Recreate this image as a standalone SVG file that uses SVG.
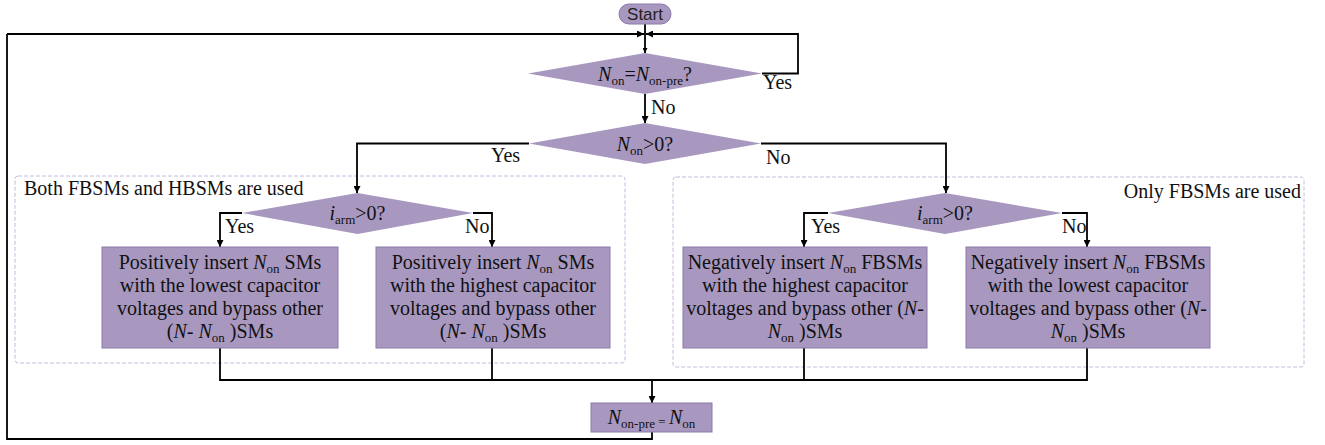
<svg xmlns="http://www.w3.org/2000/svg" width="1325" height="445" viewBox="0 0 1325 445">
  <style>
    .proc { fill: #a898c0; stroke: #8a7aa8; stroke-width: 1; }
    .dec { fill: #a898c0; stroke: none; }
    .grp { fill: none; stroke: #c4bcda; stroke-width: 1; stroke-dasharray: 4 2; }
    .wire { fill: none; stroke: #000; stroke-width: 1.8; }
    .t { font-family: "Liberation Serif", "Times New Roman", serif; font-size: 20px; fill: #111; }
    .c { text-anchor: middle; }
    .i { font-style: italic; }
    .s { font-size: 13px; }
    .start { font-family: "Liberation Sans", Arial, sans-serif; font-size: 17px; fill: #222; text-anchor: middle; }
  </style>
  <defs>
    <marker id="arr" viewBox="0 0 10 10" refX="10" refY="5" markerWidth="8" markerHeight="7" markerUnits="userSpaceOnUse" orient="auto">
      <path d="M0,0 L10,5 L0,10 z" fill="#000"/>
    </marker>
    <marker id="arrS" viewBox="0 0 10 10" refX="10" refY="5" markerWidth="6" markerHeight="5" markerUnits="userSpaceOnUse" orient="auto">
      <path d="M0,0 L10,5 L0,10 z" fill="#000"/>
    </marker>
  </defs>

  <!-- dashed group frames -->
  <g id="group-both">
    <rect class="grp" x="15" y="176" width="610" height="187" rx="3"/>
    <text class="t" x="24" y="195">Both FBSMs and HBSMs are used</text>
  </g>
  <g id="group-fb">
    <rect class="grp" x="673" y="177" width="631" height="190" rx="3"/>
    <text class="t" x="1301" y="198" text-anchor="end">Only FBSMs are used</text>
  </g>

  <!-- connectors -->
  <g id="connectors">
    <path class="wire" d="M645,24 V53" stroke-width="1" marker-end="url(#arrS)"/>
    <path class="wire" d="M7,34 H644" marker-end="url(#arr)"/>
    <path class="wire" d="M762,73.5 H798 V34 H646" marker-end="url(#arr)"/>
    <path class="wire" d="M645,94 V123" marker-end="url(#arr)"/>
    <path class="wire" d="M529,143.5 H357 V193" marker-end="url(#arr)"/>
    <path class="wire" d="M761,143.5 H946 V193" marker-end="url(#arr)"/>
    <path class="wire" d="M242,213 H220 V247" marker-end="url(#arr)"/>
    <path class="wire" d="M473,213 H492 V247" marker-end="url(#arr)"/>
    <path class="wire" d="M828,213 H804 V247" marker-end="url(#arr)"/>
    <path class="wire" d="M1062,213 H1087 V247" marker-end="url(#arr)"/>
    <path class="wire" d="M220,348 V380 H1087 V348"/>
    <path class="wire" d="M492,348 V380"/>
    <path class="wire" d="M804,348 V380"/>
    <path class="wire" d="M652,380 V403" marker-end="url(#arr)"/>
    <path class="wire" d="M652,432 V439 H7 V34"/>
    <text class="t" x="763" y="89">Yes</text>
    <text class="t" x="651" y="114">No</text>
    <text class="t" x="491" y="162">Yes</text>
    <text class="t" x="766" y="164">No</text>
    <text class="t" x="225" y="233">Yes</text>
    <text class="t" x="465" y="233">No</text>
    <text class="t" x="811" y="233">Yes</text>
    <text class="t" x="1062" y="233">No</text>
  </g>

  <g id="start">
    <rect class="proc" x="619" y="4" width="52" height="20" rx="10"/>
    <text class="start" x="645" y="20">Start</text>
  </g>

  <g id="check-change">
    <polygon class="dec" points="645,53 762,73.5 645,94 528,73.5"/>
    <text class="t c" x="645" y="81"><tspan class="i">N</tspan><tspan class="s" dy="4">on</tspan><tspan dy="-4">=</tspan><tspan class="i">N</tspan><tspan class="s" dy="4">on-pre</tspan><tspan dy="-4">?</tspan></text>
  </g>

  <g id="check-sign">
    <polygon class="dec" points="645,123 761,143.5 645,164 529,143.5"/>
    <text class="t c" x="645" y="151"><tspan class="i">N</tspan><tspan class="s" dy="4">on</tspan><tspan dy="-4">&gt;0?</tspan></text>
  </g>

  <g id="check-current-left">
    <polygon class="dec" points="357.5,193 473,213 357.5,234 242,213"/>
    <text class="t c" x="357.5" y="220"><tspan class="i">i</tspan><tspan class="s" dy="4">arm</tspan><tspan dy="-4">&gt;0?</tspan></text>
  </g>

  <g id="check-current-right">
    <polygon class="dec" points="945,193 1062,213 945,234 828,213"/>
    <text class="t c" x="945" y="220"><tspan class="i">i</tspan><tspan class="s" dy="4">arm</tspan><tspan dy="-4">&gt;0?</tspan></text>
  </g>

  <g id="pos-lowest">
    <rect class="proc" x="102" y="247" width="236" height="101"/>
    <text class="t c" x="220" y="269"><tspan>Positively insert </tspan><tspan class="i">N</tspan><tspan class="s" dy="4">on</tspan><tspan dy="-4"> SMs</tspan></text>
    <text class="t c" x="220" y="292">with the lowest capacitor</text>
    <text class="t c" x="220" y="315">voltages and bypass other</text>
    <text class="t c" x="220" y="338">(<tspan class="i">N</tspan>- <tspan class="i">N</tspan><tspan class="s" dy="4">on</tspan><tspan dy="-4"> )SMs</tspan></text>
  </g>

  <g id="pos-highest">
    <rect class="proc" x="376" y="247" width="234" height="101"/>
    <text class="t c" x="493" y="269"><tspan>Positively insert </tspan><tspan class="i">N</tspan><tspan class="s" dy="4">on</tspan><tspan dy="-4"> SMs</tspan></text>
    <text class="t c" x="493" y="292">with the highest capacitor</text>
    <text class="t c" x="493" y="315">voltages and bypass other</text>
    <text class="t c" x="493" y="338">(<tspan class="i">N</tspan>- <tspan class="i">N</tspan><tspan class="s" dy="4">on</tspan><tspan dy="-4"> )SMs</tspan></text>
  </g>

  <g id="neg-highest">
    <rect class="proc" x="683" y="247" width="244" height="101"/>
    <text class="t c" x="805" y="269"><tspan>Negatively insert </tspan><tspan class="i">N</tspan><tspan class="s" dy="4">on</tspan><tspan dy="-4"> FBSMs</tspan></text>
    <text class="t c" x="805" y="292">with the highest capacitor</text>
    <text class="t c" x="805" y="315">voltages and bypass other (<tspan class="i">N</tspan>-</text>
    <text class="t c" x="805" y="338"><tspan class="i">N</tspan><tspan class="s" dy="4">on</tspan><tspan dy="-4"> )SMs</tspan></text>
  </g>

  <g id="neg-lowest">
    <rect class="proc" x="966" y="247" width="244" height="101"/>
    <text class="t c" x="1088" y="269"><tspan>Negatively insert </tspan><tspan class="i">N</tspan><tspan class="s" dy="4">on</tspan><tspan dy="-4"> FBSMs</tspan></text>
    <text class="t c" x="1088" y="292">with the lowest capacitor</text>
    <text class="t c" x="1088" y="315">voltages and bypass other (<tspan class="i">N</tspan>-</text>
    <text class="t c" x="1088" y="338"><tspan class="i">N</tspan><tspan class="s" dy="4">on</tspan><tspan dy="-4"> )SMs</tspan></text>
  </g>

  <g id="update">
    <rect class="proc" x="591" y="403" width="121" height="29"/>
    <text class="t c" x="651.5" y="424"><tspan class="i">N</tspan><tspan class="s" dy="4">on-pre</tspan><tspan class="s" dy="-2"> = </tspan><tspan class="i" dy="-2">N</tspan><tspan class="s" dy="4">on</tspan></text>
  </g>
</svg>
